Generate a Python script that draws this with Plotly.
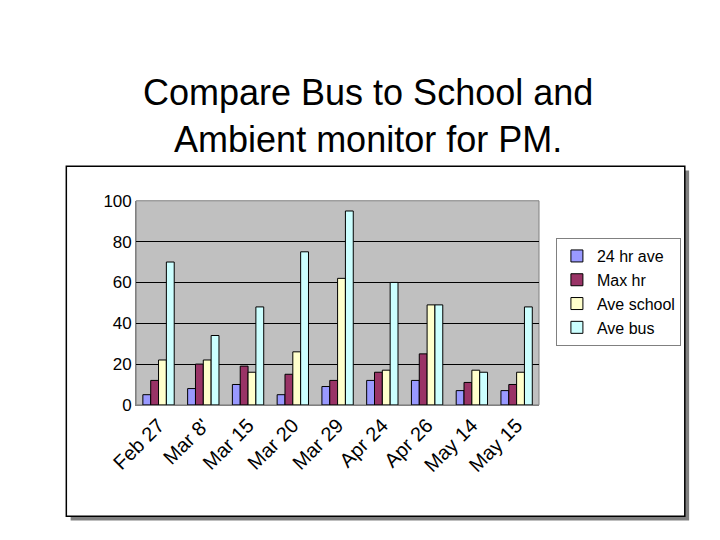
import plotly.graph_objects as go

dates = ["Feb 27", "Mar 8'", "Mar 15", "Mar 20", "Mar 29", "Apr 24", "Apr 26", "May 14", "May 15"]
hr24_ave = [5, 8, 10, 5, 9, 12, 12, 7, 7]
max_hr = [12, 20, 19, 15, 12, 16, 25, 11, 10]
ave_school = [22, 22, 16, 26, 62, 17, 49, 17, 16]
ave_bus = [70, 34, 48, 75, 95, 60, 49, 16, 48]

series = [
    ("24 hr ave", hr24_ave, "#9999FF"),
    ("Max hr", max_hr, "#993366"),
    ("Ave school", ave_school, "#FFFFCC"),
    ("Ave bus", ave_bus, "#CCFFFF"),
]

fig = go.Figure()
for name, vals, color in series:
    fig.add_trace(go.Bar(x=dates, y=vals, name=name,
                         marker=dict(color=color, line=dict(color="black", width=1))))

fig.update_layout(
    width=720, height=540,
    margin=dict(l=0, r=0, t=0, b=0),
    paper_bgcolor="white", plot_bgcolor="#C0C0C0",
    barmode="group", bargap=0.3, bargroupgap=0,
    font=dict(family="Liberation Sans, Arial", color="black"),
    xaxis=dict(domain=[0.178, 0.7375], tickangle=-45, tickfont=dict(size=20),
               showline=True, linecolor="#808080", ticks="", automargin=False),
    yaxis=dict(domain=[0.265, 0.643], range=[0, 100], dtick=20,
               tickfont=dict(size=17), gridcolor="black", gridwidth=1,
               showline=True, linecolor="#808080", zeroline=False, automargin=False),
    legend=dict(x=0.761, y=0.574, xanchor="left", yanchor="top",
                bordercolor="#808080", borderwidth=1, bgcolor="white",
                font=dict(size=16), traceorder="normal"),
    shapes=[
        # drop shadow and chart border
        dict(type="rect", xref="paper", yref="paper", x0=0.087, x1=0.946,
             y0=0.051, y1=0.699, fillcolor="#808080", line=dict(width=0), layer="below"),
        dict(type="rect", xref="paper", yref="paper", x0=0.081, x1=0.940,
             y0=0.059, y1=0.707, fillcolor="white", line=dict(color="black", width=1.5),
             layer="below"),
        # gray plot area (shapes below would cover plot_bgcolor)
        dict(type="rect", xref="x domain", yref="y domain", x0=0, x1=1, y0=0, y1=1,
             fillcolor="#C0C0C0", line=dict(color="#808080", width=1), layer="below"),
    ],
    annotations=[dict(text="Compare Bus to School and<br>Ambient monitor for PM.",
                      xref="paper", yref="paper", x=0.5, y=0.885, showarrow=False,
                      font=dict(size=36), align="center")],
)

fig.write_html("out.html")
